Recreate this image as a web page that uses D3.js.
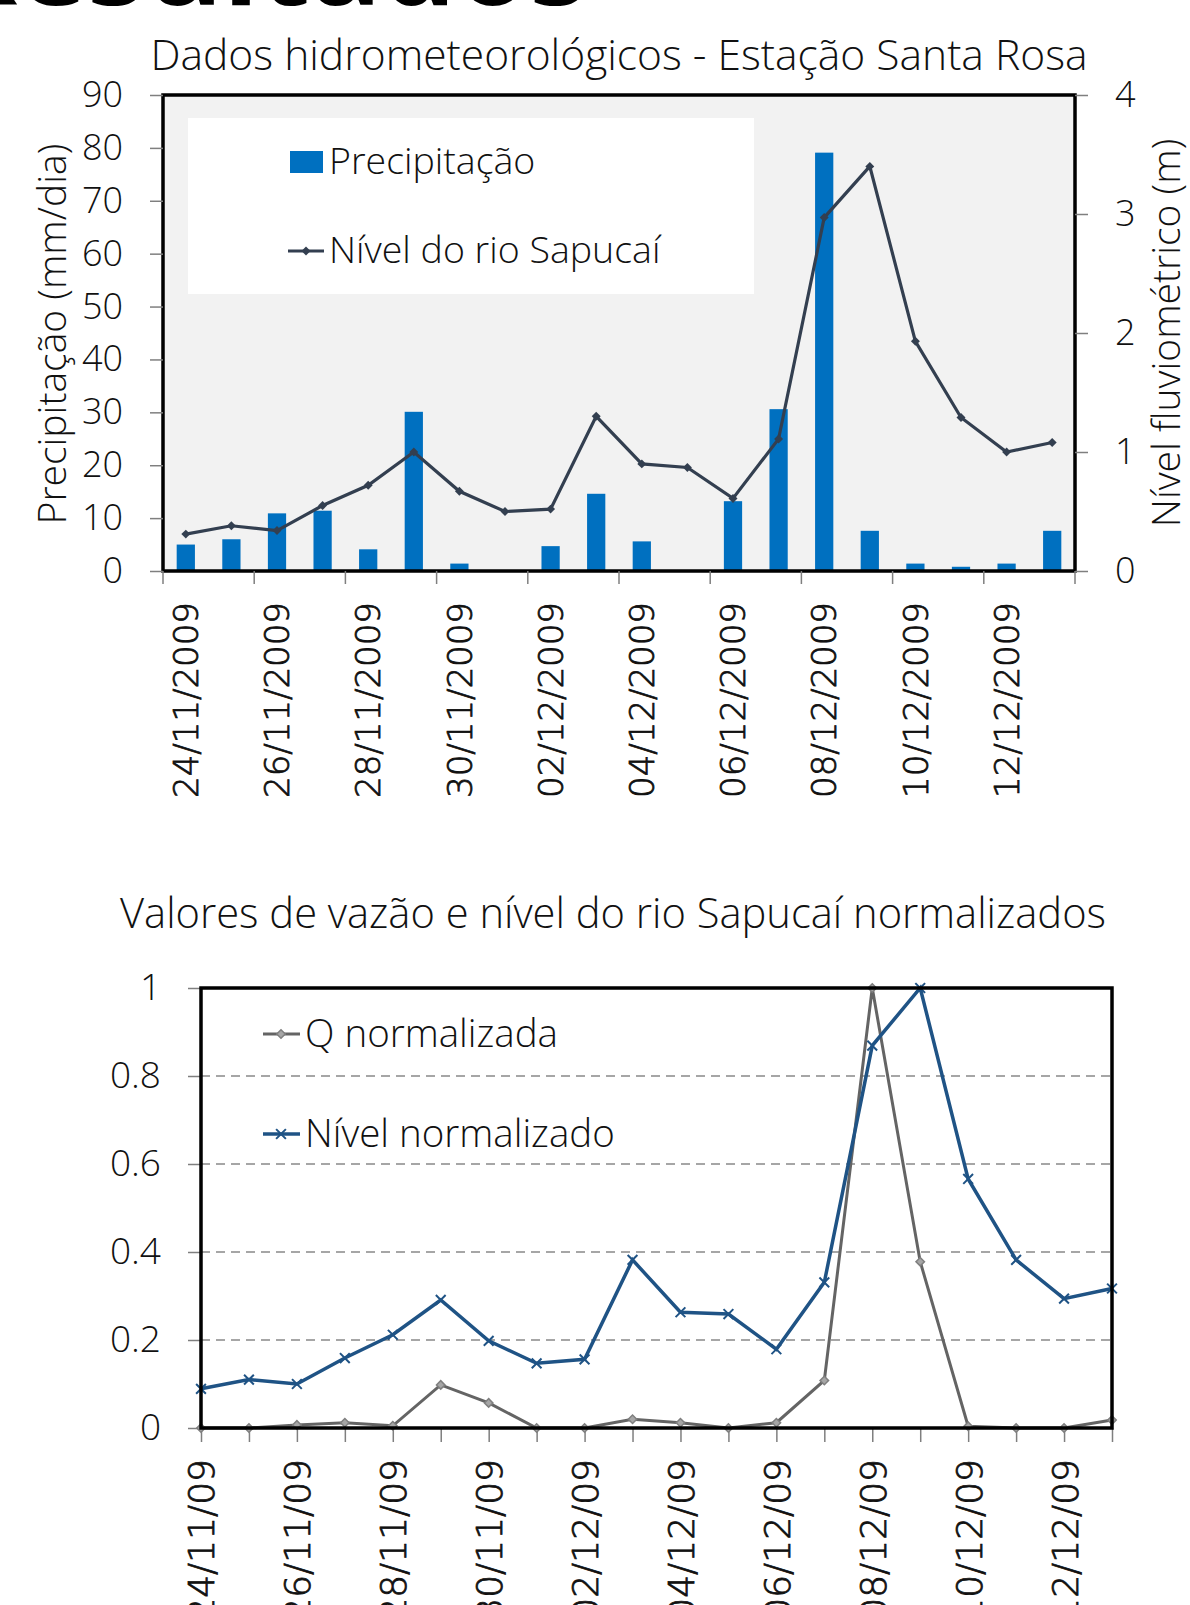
<!DOCTYPE html>
<html lang="pt">
<head>
<meta charset="UTF-8">
<title>Resultados</title>
<script src="https://d3js.org/d3.v7.min.js"></script>
<style>
  body { margin: 0; background: #fff; }
  svg text { font-family: "Open Sans", "Noto Sans", sans-serif; font-weight: 300; fill: #111; }
  .dat text { font-family: "DejaVu Sans", sans-serif; font-weight: 200; stroke: #111; stroke-width: 0.8px; }
</style>
</head>
<body>
<script>
// dias da série (24/11/2009 a 13/12/2009)
const dias = ["24/11","25/11","26/11","27/11","28/11","29/11","30/11","01/12","02/12","03/12",
              "04/12","05/12","06/12","07/12","08/12","09/12","10/12","11/12","12/12","13/12"];
// precipitação (mm/dia)
const precipitacao = [5.0, 6.0, 10.9, 11.4, 4.1, 30.1, 1.4, 0, 4.7, 14.6,
                      5.6, 0, 13.2, 30.6, 79.1, 7.6, 1.4, 0.8, 1.4, 7.6];
// nível do rio Sapucaí (m)
const nivelRio = [0.31, 0.38, 0.34, 0.55, 0.72, 1.00, 0.67, 0.50, 0.52, 1.30,
                  0.90, 0.87, 0.61, 1.11, 2.97, 3.40, 1.93, 1.29, 1.00, 1.08];
// valores normalizados
const qNorm = [0, 0, 0.007, 0.012, 0.005, 0.098, 0.057, 0, 0, 0.02,
               0.012, 0, 0.012, 0.108, 1.0, 0.378, 0.004, 0, 0, 0.018];
const nivelNorm = [0.089, 0.11, 0.10, 0.159, 0.212, 0.291, 0.198, 0.147, 0.156, 0.382,
                   0.263, 0.259, 0.179, 0.331, 0.869, 1.0, 0.566, 0.382, 0.294, 0.317];
const ticksPrecip = [0, 10, 20, 30, 40, 50, 60, 70, 80, 90];
const ticksNivel = [0, 1, 2, 3, 4];
const ticksNorm = [0, 0.2, 0.4, 0.6, 0.8, 1];

const svg = d3.select("body").append("svg")
  .attr("width", 1190).attr("height", 1605)
  .style("background", "#fff");

// título do slide (cortado no topo)
svg.append("text").attr("x", 588).attr("y", 5).attr("text-anchor", "end")
  .style("font-size", "118px").style("font-weight", "bold").style("fill", "#000")
  .text("Resultados");

// ---------- gráfico 1 ----------
const t = {left: 163, right: 1075, top: 95, bottom: 571};
const x1 = d3.scaleBand().domain(dias).range([t.left, t.right]).paddingInner(0.6).paddingOuter(0.3);
const yP = d3.scaleLinear().domain([0, 90]).range([t.bottom, t.top]);
const yN = d3.scaleLinear().domain([0, 4]).range([t.bottom, t.top]);
const cx1 = (d) => x1(d) + x1.bandwidth() / 2;

svg.append("rect").attr("x", t.left).attr("y", t.top)
  .attr("width", t.right - t.left).attr("height", t.bottom - t.top).attr("fill", "#F2F2F2");

svg.selectAll(".bar").data(dias).join("rect").attr("class", "bar")
  .attr("x", (d) => x1(d)).attr("width", x1.bandwidth())
  .attr("y", (d, i) => yP(precipitacao[i]))
  .attr("height", (d, i) => yP(0) - yP(precipitacao[i]))
  .attr("fill", "#0070C0");

const linha1 = d3.line().x((v, i) => cx1(dias[i])).y((v) => yN(v));
svg.append("path").datum(nivelRio).attr("d", linha1)
  .attr("fill", "none").attr("stroke", "#333F50").attr("stroke-width", 3.2);

const losango = d3.symbol(d3.symbolSquare, 40);
svg.selectAll(".mk1").data(nivelRio).join("path").attr("class", "mk1")
  .attr("d", losango)
  .attr("transform", (v, i) => `translate(${cx1(dias[i])},${yN(v)}) rotate(45)`)
  .attr("fill", "#333F50");

// moldura
svg.append("rect").attr("x", t.left).attr("y", t.top)
  .attr("width", t.right - t.left).attr("height", t.bottom - t.top)
  .attr("fill", "none").attr("stroke", "#000").attr("stroke-width", 3.5);

// eixos y
const axL = svg.append("g").attr("transform", `translate(${t.left},0)`)
  .call(d3.axisLeft(yP).tickValues(ticksPrecip).tickSize(13).tickPadding(27));
const axR = svg.append("g").attr("transform", `translate(${t.right},0)`)
  .call(d3.axisRight(yN).tickValues(ticksNivel).tickSize(13).tickPadding(27).tickFormat(d3.format("d")));
[axL, axR].forEach((g) => {
  g.select(".domain").remove();
  g.selectAll("line").attr("stroke", "#7F7F7F").attr("stroke-width", 1.5);
  g.selectAll("text").style("font-size", "36px");
});

// eixo x (rótulos a cada dois dias)
const passo = x1.step();
const limites = dias.filter((d, i) => i % 2 === 0).map((d) => x1(d) - passo * 0.3).concat([t.right]);
svg.selectAll(".tk1").data(limites).join("line").attr("class", "tk1")
  .attr("x1", (v) => v).attr("x2", (v) => v)
  .attr("y1", t.bottom).attr("y2", t.bottom + 13)
  .attr("stroke", "#7F7F7F").attr("stroke-width", 1.5);

const axB1 = svg.append("g").attr("class", "dat").attr("transform", `translate(0,${t.bottom})`)
  .call(d3.axisBottom(x1).tickValues(dias.filter((d, i) => i % 2 === 0)).tickSize(0)
    .tickFormat((d) => d + "/2009"));
axB1.select(".domain").remove();
axB1.selectAll("line").remove();
axB1.selectAll("text")
  .attr("transform", "rotate(-90)").attr("x", -31).attr("y", 0).attr("dy", "0.36em")
  .style("text-anchor", "end").style("font-size", "34px").style("fill", "#111");

// títulos
svg.append("text").attr("x", 619).attr("y", 70).attr("text-anchor", "middle")
  .attr("textLength", 937).attr("lengthAdjust", "spacingAndGlyphs")
  .style("font-size", "42px").text("Dados hidrometeorológicos - Estação Santa Rosa");
svg.append("text").attr("transform", "translate(52,334) rotate(-90)")
  .attr("text-anchor", "middle").attr("dy", "0.35em")
  .style("font-size", "39px").text("Precipitação (mm/dia)");
svg.append("text").attr("transform", "translate(1166,333) rotate(-90)")
  .attr("text-anchor", "middle").attr("dy", "0.35em")
  .style("font-size", "39px").text("Nível fluviométrico (m)");

// legenda
svg.append("rect").attr("x", 188).attr("y", 118).attr("width", 566).attr("height", 176).attr("fill", "#fff");
svg.append("rect").attr("x", 290).attr("y", 151).attr("width", 33).attr("height", 22).attr("fill", "#0070C0");
svg.append("text").attr("x", 329).attr("y", 174).style("font-size", "37.5px").text("Precipitação");
svg.append("line").attr("x1", 288).attr("x2", 324).attr("y1", 251).attr("y2", 251)
  .attr("stroke", "#333F50").attr("stroke-width", 3);
svg.append("path").attr("d", losango).attr("transform", "translate(306,251) rotate(45)").attr("fill", "#333F50");
svg.append("text").attr("x", 329).attr("y", 263).style("font-size", "37.5px").text("Nível do rio Sapucaí");

// ---------- gráfico 2 ----------
const b = {left: 201, right: 1112, top: 988, bottom: 1428};
const x2 = d3.scalePoint().domain(dias).range([b.left, b.right]);
const y2 = d3.scaleLinear().domain([0, 1]).range([b.bottom, b.top]);

svg.selectAll(".grid").data(ticksNorm.filter((v) => v > 0 && v < 1)).join("line").attr("class", "grid")
  .attr("x1", b.left).attr("x2", b.right).attr("y1", (v) => y2(v)).attr("y2", (v) => y2(v))
  .attr("stroke", "#A6A6A6").attr("stroke-width", 2).attr("stroke-dasharray", "9,6");

const axL2 = svg.append("g").attr("transform", `translate(${b.left},0)`)
  .call(d3.axisLeft(y2).tickValues(ticksNorm).tickSize(13).tickPadding(27).tickFormat(d3.format("")));
axL2.select(".domain").remove();
axL2.selectAll("line").attr("stroke", "#7F7F7F").attr("stroke-width", 1.5);
axL2.selectAll("text").style("font-size", "37px");

const axB2 = svg.append("g").attr("class", "dat").attr("transform", `translate(0,${b.bottom})`)
  .call(d3.axisBottom(x2).tickSize(14).tickFormat((d, i) => i % 2 === 0 ? d + "/09" : ""));
axB2.select(".domain").remove();
axB2.selectAll("line").attr("stroke", "#7F7F7F").attr("stroke-width", 1.5);
axB2.selectAll("text")
  .attr("transform", "rotate(-90)").attr("x", -31).attr("y", 0).attr("dy", "0.36em")
  .style("text-anchor", "end").style("font-size", "36px").style("fill", "#111");

const linha2 = (arr) => d3.line().x((v, i) => x2(dias[i])).y((v) => y2(v))(arr);
svg.append("path").attr("d", linha2(qNorm))
  .attr("fill", "none").attr("stroke", "#646464").attr("stroke-width", 3);
svg.append("path").attr("d", linha2(nivelNorm))
  .attr("fill", "none").attr("stroke", "#1F5385").attr("stroke-width", 3.5);

const losango2 = d3.symbol(d3.symbolSquare, 36);
svg.selectAll(".mkq").data(qNorm).join("path").attr("class", "mkq")
  .attr("d", losango2)
  .attr("transform", (v, i) => `translate(${x2(dias[i])},${y2(v)}) rotate(45)`)
  .attr("fill", "#A6A6A6").attr("stroke", "#7F7F7F").attr("stroke-width", 1.5);
const xis = d3.symbol(d3.symbolX, 64);
svg.selectAll(".mkn").data(nivelNorm).join("path").attr("class", "mkn")
  .attr("d", xis)
  .attr("transform", (v, i) => `translate(${x2(dias[i])},${y2(v)})`)
  .attr("fill", "none").attr("stroke", "#1F5385").attr("stroke-width", 2);

svg.append("rect").attr("x", b.left).attr("y", b.top)
  .attr("width", b.right - b.left).attr("height", b.bottom - b.top)
  .attr("fill", "none").attr("stroke", "#000").attr("stroke-width", 3.5);

svg.append("text").attr("x", 613).attr("y", 928).attr("text-anchor", "middle")
  .attr("textLength", 986).attr("lengthAdjust", "spacingAndGlyphs")
  .style("font-size", "42px").text("Valores de vazão e nível do rio Sapucaí normalizados");

// legenda
svg.append("line").attr("x1", 263).attr("x2", 300).attr("y1", 1034).attr("y2", 1034)
  .attr("stroke", "#646464").attr("stroke-width", 3);
svg.append("path").attr("d", losango2).attr("transform", "translate(281,1034) rotate(45)")
  .attr("fill", "#A6A6A6").attr("stroke", "#7F7F7F").attr("stroke-width", 1.5);
svg.append("text").attr("x", 305).attr("y", 1047).style("font-size", "38.5px").text("Q normalizada");
svg.append("line").attr("x1", 263).attr("x2", 300).attr("y1", 1134).attr("y2", 1134)
  .attr("stroke", "#1F5385").attr("stroke-width", 3.5);
svg.append("path").attr("d", xis).attr("transform", "translate(281,1134)")
  .attr("fill", "none").attr("stroke", "#1F5385").attr("stroke-width", 2);
svg.append("text").attr("x", 305).attr("y", 1147).style("font-size", "38.5px").text("Nível normalizado");
</script>
</body>
</html>
